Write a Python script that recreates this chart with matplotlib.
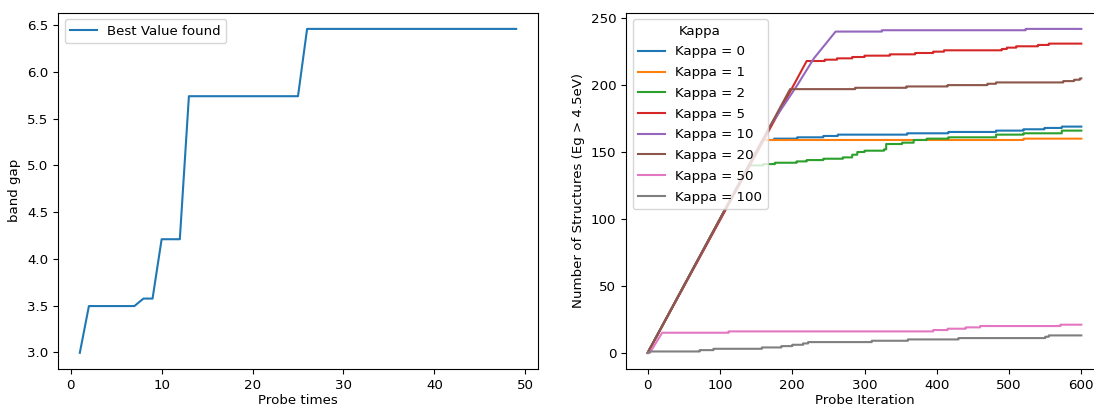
import numpy as np
import matplotlib
matplotlib.use('Agg')
import matplotlib.pyplot as plt

# left panel: best band gap found so far
probe_times = [1, 2, 7, 8, 9, 10, 12, 13, 25, 26, 49]
best_gap = [2.995, 3.495, 3.495, 3.575, 3.575, 4.21, 4.21, 5.74, 5.74, 6.46, 6.46]

# right panel: structures with Eg > 4.5eV per kappa
kappas = [0, 1, 2, 5, 10, 20, 50, 100]
last_iter = 600
ramp_x = [[0, 159], [0, 159], [0, 140], [0, 200, 220], [0, 170, 207, 230, 260],
          [0, 197], [0, 3, 20], [0, 5]]
ramp_y = [[0, 159], [0, 159], [0, 140], [0, 198, 218], [0, 170, 200, 220, 240],
          [0, 197], [0, 0, 15], [0, 1]]
step_x = [[175, 207, 243, 263, 359, 416, 482, 520, 549, 573],
          [520],
          [160, 176, 206, 220, 243, 270, 283, 290, 300, 327, 330, 352, 368, 386, 416, 482, 520, 573],
          [245, 262, 283, 300, 335, 370, 395, 410, 490, 497, 510, 540, 555],
          [324, 523],
          [287, 358, 415, 470, 482, 575, 590, 598],
          [112, 395, 415, 440, 460, 571],
          [72, 91, 158, 185, 200, 215, 222, 310, 360, 430, 550, 555]]
step_y = [[160, 161, 162, 163, 164, 165, 166, 167, 168, 169],
          [160],
          [141, 142, 143, 144, 145, 146, 148, 150, 151, 152, 156, 157, 159, 160, 161, 163, 164, 166],
          [219, 220, 221, 222, 223, 224, 225, 226, 227, 228, 229, 230, 231],
          [241, 242],
          [198, 199, 200, 201, 202, 203, 204, 205],
          [16, 17, 18, 19, 20, 21],
          [2, 3, 4, 5, 6, 7, 8, 9, 10, 11, 12, 13]]


def staircase(rx, ry, sx, sy, end):
    xs, ys = list(rx), list(ry)
    for x, y in zip(sx, sy):
        xs += [x, x]
        ys += [ys[-1], y]
    xs.append(end)
    ys.append(ys[-1])
    return np.array(xs), np.array(ys)


plt.rcParams['font.size'] = 9.6

fig = plt.figure(figsize=(10.94, 4.08), dpi=100)
ax1 = fig.add_axes([58 / 1094, 39 / 408, 480 / 1094, 356.3 / 408])
ax2 = fig.add_axes([626 / 1094, 39 / 408, 477 / 1094, 356.3 / 408])

ax1.plot(probe_times, best_gap, label='Best Value found')
ax1.set_xlabel('Probe times', labelpad=2)
ax1.set_ylabel('band gap')
ax1.legend(loc='upper left')

for i, k in enumerate(kappas):
    xs, ys = staircase(ramp_x[i], ramp_y[i], step_x[i], step_y[i], last_iter)
    ax2.plot(xs, ys, label=f'Kappa = {k}')
ax2.set_xlabel('Probe Iteration', labelpad=2)
ax2.set_ylabel('Number of Structures (Eg > 4.5eV)')
ax2.legend(title='Kappa', loc='upper left', labelspacing=0.58)

fig.savefig('out.png', dpi=100)
